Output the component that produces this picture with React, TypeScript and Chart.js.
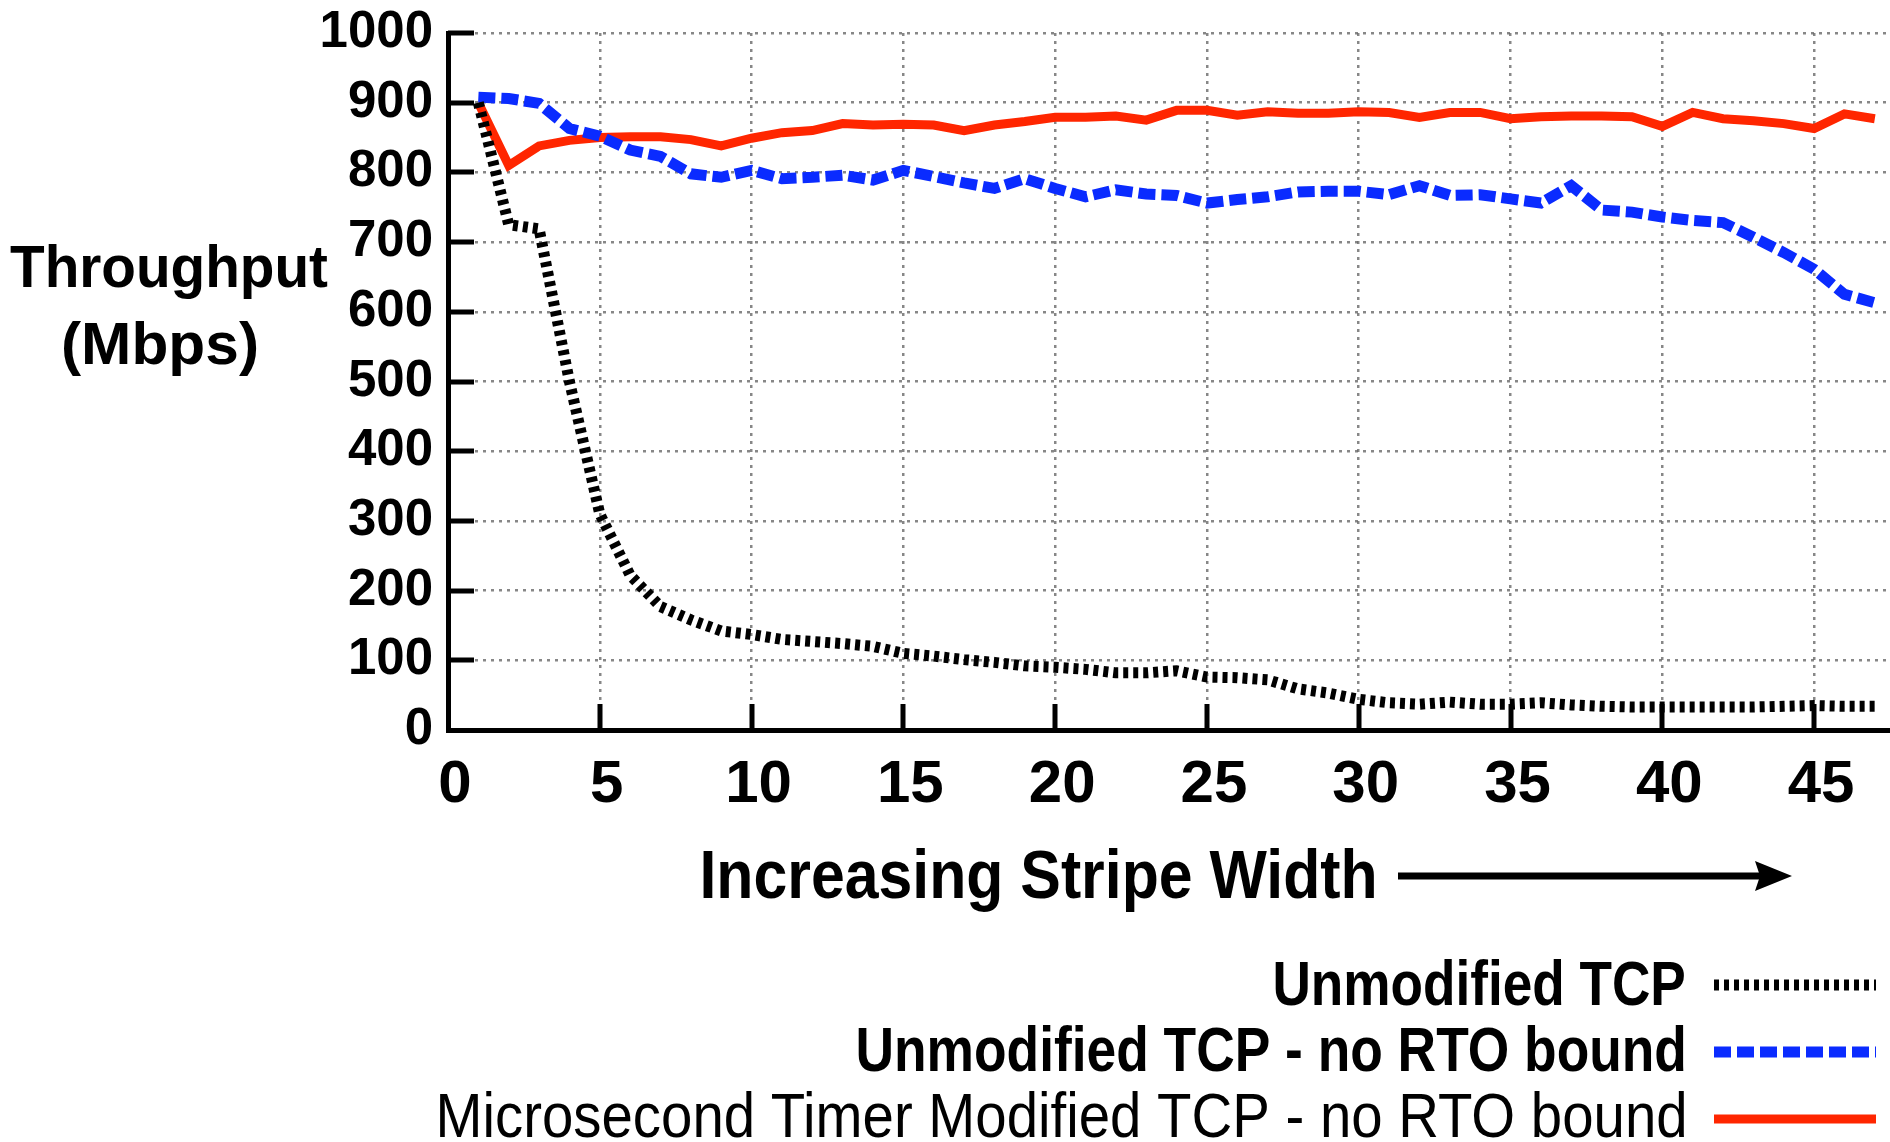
import React, { useEffect, useRef } from 'react';
import { Chart, registerables } from 'chart.js';

Chart.register(...registerables);

// ---- data ----
const stripeWidths = [
  1, 2, 3, 4, 5, 6, 7, 8, 9, 10, 11, 12, 13, 14, 15, 16, 17, 18, 19, 20, 21, 22, 23, 24,
  25, 26, 27, 28, 29, 30, 31, 32, 33, 34, 35, 36, 37, 38, 39, 40, 41, 42, 43, 44, 45, 46, 47,
];
const unmodifiedTcp = [
  900, 725, 719, 500, 310, 222, 177, 158, 142, 137, 130, 127, 124, 120, 110, 106, 101, 97, 92, 90,
  87, 82, 82, 85, 76, 75, 72, 59, 53, 44, 39, 37, 40, 37, 37, 39, 36, 34, 33, 33, 33, 33, 33, 34,
  35, 34, 34,
];
const unmodifiedNoRto = [
  908, 906, 899, 863, 852, 832, 823, 798, 793, 803, 791, 793, 796, 789, 803, 794, 785, 777, 791,
  777, 765, 775, 769, 767, 756, 761, 765, 772, 773, 773, 768, 781, 767, 768, 762, 756, 781, 746,
  743, 736, 731, 728, 707, 685, 661, 625, 613,
];
const microsecondNoRto = [
  900, 810, 838, 846, 850, 851, 851, 847, 838, 849, 857, 860, 870, 868, 869, 868, 860, 868, 873,
  879, 879, 881, 875, 889, 889, 882, 887, 885, 885, 887, 886, 879, 886, 886, 877, 880, 881, 881,
  880, 866, 886, 877, 874, 870, 863, 884, 877,
];
const seriesLabels = [
  'Unmodified TCP',
  'Unmodified TCP - no RTO bound',
  'Microsecond Timer Modified TCP - no RTO bound',
];
const yAxisTitleLines = ['Throughput', '(Mbps)'];
const xAxisTitle = 'Increasing Stripe Width';
const xRange = [0, 47.5];
const yRange = [0, 1000];
const xTickStep = 5;
const yTickStep = 100;

const FONT = '"Liberation Sans", Arial, Helvetica, sans-serif';
const GRID_COLOR = 'rgba(105,105,105,0.8)';

type Box = { text: string; left: number; right: number; baseline: number; font: string };

function drawFitted(ctx: CanvasRenderingContext2D, b: Box) {
  ctx.save();
  ctx.font = b.font;
  ctx.fillStyle = '#000';
  ctx.textAlign = 'left';
  ctx.textBaseline = 'alphabetic';
  const m = ctx.measureText(b.text);
  const glyphW = m.actualBoundingBoxLeft + m.actualBoundingBoxRight;
  const sx = (b.right - b.left) / glyphW;
  ctx.translate(b.left + m.actualBoundingBoxLeft * sx, b.baseline);
  ctx.scale(sx, 1);
  ctx.fillText(b.text, 0, 0);
  ctx.restore();
}

const decorations = {
  id: 'decorations',
  beforeDatasetsDraw(chart: any) {
    const { ctx, chartArea, scales } = chart;
    ctx.save();
    ctx.strokeStyle = '#000';
    ctx.lineWidth = 5;
    ctx.setLineDash([]);
    ctx.beginPath();
    scales.y.ticks.forEach((t: any) => {
      if (t.value === 0) return;
      const y = Math.round(scales.y.getPixelForValue(t.value));
      ctx.moveTo(chartArea.left, y);
      ctx.lineTo(chartArea.left + 26, y);
    });
    scales.x.ticks.forEach((t: any) => {
      if (t.value === 0) return;
      const x = Math.round(scales.x.getPixelForValue(t.value));
      ctx.moveTo(x, chartArea.bottom);
      ctx.lineTo(x, chartArea.bottom - 26);
    });
    ctx.stroke();
    ctx.restore();
  },
  afterDraw(chart: any) {
    const ctx: CanvasRenderingContext2D = chart.ctx;
    // y axis title (horizontal, two lines)
    drawFitted(ctx, { text: yAxisTitleLines[0], left: 10, right: 328, baseline: 287, font: `bold 60px ${FONT}` });
    drawFitted(ctx, { text: yAxisTitleLines[1], left: 63, right: 256, baseline: 364, font: `bold 60px ${FONT}` });
    // x axis title with arrow
    drawFitted(ctx, { text: xAxisTitle, left: 703, right: 1374, baseline: 898, font: `bold 69px ${FONT}` });
    ctx.save();
    ctx.strokeStyle = '#000';
    ctx.fillStyle = '#000';
    ctx.lineWidth = 7;
    ctx.beginPath();
    ctx.moveTo(1398, 876);
    ctx.lineTo(1765, 876);
    ctx.stroke();
    ctx.beginPath();
    ctx.moveTo(1792, 876);
    ctx.lineTo(1755, 861);
    ctx.lineTo(1760, 876);
    ctx.lineTo(1755, 891);
    ctx.closePath();
    ctx.fill();
    ctx.restore();
    // legend
    const lefts = [1275, 858, 440];
    const baselines = [1005, 1071, 1137];
    const sampleY = [985, 1052, 1119];
    const weights = ['bold', 'bold', 'normal'];
    chart.data.datasets.forEach((ds: any, i: number) => {
      drawFitted(ctx, {
        text: ds.label,
        left: lefts[i],
        right: 1684,
        baseline: baselines[i],
        font: `${weights[i]} 63px ${FONT}`,
      });
      ctx.save();
      ctx.strokeStyle = ds.borderColor;
      ctx.lineWidth = ds.borderWidth;
      ctx.setLineDash(ds.borderDash || []);
      ctx.lineCap = 'butt';
      ctx.beginPath();
      ctx.moveTo(1714, sampleY[i]);
      ctx.lineTo(1876, sampleY[i]);
      ctx.stroke();
      ctx.restore();
    });
  },
};

export default function App() {
  const canvasRef = useRef<HTMLCanvasElement | null>(null);

  useEffect(() => {
    const canvas = canvasRef.current;
    if (!canvas) return;
    const toPoints = (vals: number[]) => stripeWidths.map((x, i) => ({ x, y: vals[i] }));
    const chart = new Chart(canvas, {
      type: 'line',
      data: {
        datasets: [
          {
            label: seriesLabels[0],
            data: toPoints(unmodifiedTcp),
            borderColor: '#000000',
            borderWidth: 11,
            borderDash: [5, 5],
            borderCapStyle: 'butt',
            pointRadius: 0,
            fill: false,
            tension: 0,
          },
          {
            label: seriesLabels[1],
            data: toPoints(unmodifiedNoRto),
            borderColor: '#0a2bff',
            borderWidth: 11,
            borderDash: [17, 6],
            borderCapStyle: 'butt',
            pointRadius: 0,
            fill: false,
            tension: 0,
          },
          {
            label: seriesLabels[2],
            data: toPoints(microsecondNoRto),
            borderColor: '#ff2600',
            borderWidth: 9,
            pointRadius: 0,
            fill: false,
            tension: 0,
          },
        ],
      },
      options: {
        animation: false,
        responsive: false,
        events: [],
        layout: { padding: { top: 33, right: 0, bottom: 0, left: 0 } },
        plugins: {
          legend: { display: false },
          tooltip: { enabled: false },
          title: { display: false },
        },
        scales: {
          x: {
            type: 'linear',
            min: xRange[0],
            max: xRange[1],
            afterFit: (s: any) => {
              s.height = 412;
            },
            ticks: {
              stepSize: xTickStep,
              includeBounds: false,
              autoSkip: false,
              maxRotation: 0,
              padding: 19,
              labelOffset: 7,
              color: '#000',
              font: { family: FONT, size: 60, weight: 'bold', lineHeight: 1.2 },
              callback: (v: any) => String(v),
            },
            grid: { color: GRID_COLOR, lineWidth: 2.5, drawTicks: false },
            border: { display: true, color: '#000', width: 5, dash: [3, 5] },
          },
          y: {
            type: 'linear',
            min: yRange[0],
            max: yRange[1],
            afterFit: (s: any) => {
              s.width = 448;
            },
            ticks: {
              stepSize: yTickStep,
              padding: 15,
              color: '#000',
              font: { family: FONT, size: 51, weight: 'bold', lineHeight: 0.5 },
              callback: (v: any) => String(v),
            },
            grid: { color: GRID_COLOR, lineWidth: 2.5, drawTicks: false },
            border: { display: true, color: '#000', width: 5, dash: [3, 5] },
          },
        },
      } as any,
      plugins: [decorations],
    });
    return () => chart.destroy();
  }, []);

  return (
    <div style={{ position: 'fixed', left: 0, top: 0, width: 1890, height: 1142, background: '#fff' }}>
      <canvas ref={canvasRef} width={1890} height={1142} style={{ display: 'block' }} />
    </div>
  );
}
